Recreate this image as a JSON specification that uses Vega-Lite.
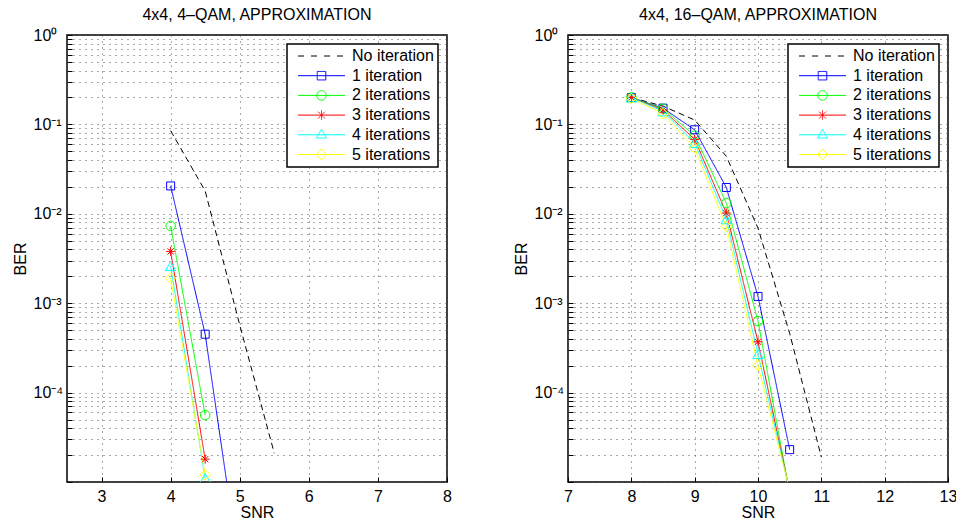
{
  "$schema": "https://vega.github.io/schema/vega-lite/v6.json",
  "background": "white",
  "padding": {"left": 11, "top": 6, "right": 0, "bottom": 0},
  "spacing": 59,
  "datasets": {
    "qam4": [
      {"snr": 4, "ber": 0.085, "series": "No iteration"},
      {"snr": 4.5, "ber": 0.018, "series": "No iteration"},
      {"snr": 5, "ber": 0.00057, "series": "No iteration"},
      {"snr": 5.5, "ber": 0.000021, "series": "No iteration"},
      {"snr": 4, "ber": 0.0205, "series": "1 iteration"},
      {"snr": 4.5, "ber": 0.00045, "series": "1 iteration"},
      {"snr": 5, "ber": 0.000001, "series": "1 iteration"},
      {"snr": 4, "ber": 0.0073, "series": "2 iterations"},
      {"snr": 4.5, "ber": 0.000056, "series": "2 iterations"},
      {"snr": 4, "ber": 0.0038, "series": "3 iterations"},
      {"snr": 4.5, "ber": 0.000018, "series": "3 iterations"},
      {"snr": 4, "ber": 0.0026, "series": "4 iterations"},
      {"snr": 4.5, "ber": 0.000011, "series": "4 iterations"},
      {"snr": 4, "ber": 0.0019, "series": "5 iterations"},
      {"snr": 4.5, "ber": 0.000012, "series": "5 iterations"}
    ],
    "qam16": [
      {"snr": 8, "ber": 0.2, "series": "No iteration"},
      {"snr": 8.5, "ber": 0.16, "series": "No iteration"},
      {"snr": 9, "ber": 0.112, "series": "No iteration"},
      {"snr": 9.5, "ber": 0.044, "series": "No iteration"},
      {"snr": 10, "ber": 0.0069, "series": "No iteration"},
      {"snr": 10.5, "ber": 0.00046, "series": "No iteration"},
      {"snr": 11, "ber": 0.000019, "series": "No iteration"},
      {"snr": 8, "ber": 0.2, "series": "1 iteration"},
      {"snr": 8.5, "ber": 0.152, "series": "1 iteration"},
      {"snr": 9, "ber": 0.087, "series": "1 iteration"},
      {"snr": 9.5, "ber": 0.0197, "series": "1 iteration"},
      {"snr": 10, "ber": 0.00119, "series": "1 iteration"},
      {"snr": 10.5, "ber": 0.000023, "series": "1 iteration"},
      {"snr": 8, "ber": 0.2, "series": "2 iterations"},
      {"snr": 8.5, "ber": 0.15, "series": "2 iterations"},
      {"snr": 9, "ber": 0.075, "series": "2 iterations"},
      {"snr": 9.5, "ber": 0.0132, "series": "2 iterations"},
      {"snr": 10, "ber": 0.00063, "series": "2 iterations"},
      {"snr": 10.5, "ber": 0.0000075, "series": "2 iterations"},
      {"snr": 8, "ber": 0.2, "series": "3 iterations"},
      {"snr": 8.5, "ber": 0.145, "series": "3 iterations"},
      {"snr": 9, "ber": 0.068, "series": "3 iterations"},
      {"snr": 9.5, "ber": 0.0102, "series": "3 iterations"},
      {"snr": 10, "ber": 0.00037, "series": "3 iterations"},
      {"snr": 10.5, "ber": 0.0000078, "series": "3 iterations"},
      {"snr": 8, "ber": 0.2, "series": "4 iterations"},
      {"snr": 8.5, "ber": 0.14, "series": "4 iterations"},
      {"snr": 9, "ber": 0.062, "series": "4 iterations"},
      {"snr": 9.5, "ber": 0.0087, "series": "4 iterations"},
      {"snr": 10, "ber": 0.00027, "series": "4 iterations"},
      {"snr": 10.5, "ber": 0.000008, "series": "4 iterations"},
      {"snr": 8, "ber": 0.195, "series": "5 iterations"},
      {"snr": 8.5, "ber": 0.132, "series": "5 iterations"},
      {"snr": 9, "ber": 0.054, "series": "5 iterations"},
      {"snr": 9.5, "ber": 0.0072, "series": "5 iterations"},
      {"snr": 10, "ber": 0.0002, "series": "5 iterations"},
      {"snr": 10.5, "ber": 0.0000082, "series": "5 iterations"}
    ]
  },
  "config": {
    "font": "Liberation Sans",
    "view": {"stroke": "#000", "strokeWidth": 1.5},
    "axis": {
      "labelFont": "Liberation Sans", "labelFontSize": 16, "labelColor": "#000",
      "titleFont": "Liberation Sans", "titleFontSize": 16, "titleFontWeight": "normal", "titleColor": "#000",
      "domain": false, "grid": true, "gridColor": "#555", "gridDash": [1, 5], "gridWidth": 1, "gridOpacity": 1,
      "ticks": true, "tickColor": "#000", "tickSize": -5, "tickWidth": 1,
      "labelOverlap": false, "labelBound": false, "labelFlush": false
    },
    "title": {"font": "Liberation Sans", "fontSize": 16, "fontWeight": "normal", "color": "#000", "anchor": "middle", "offset": 4},
    "legend": {
      "strokeColor": "#000", "strokeWidth": 1.5, "fillColor": "#fff", "padding": 4,
      "labelFont": "Liberation Sans", "labelFontSize": 16, "labelColor": "#000",
      "symbolStrokeWidth": 1, "symbolSize": 100, "labelOffset": 22.5, "symbolOffset": 22.5, "rowPadding": 3.7
    }
  },
  "resolve": {
    "scale": {"color": "independent", "shape": "independent", "strokeDash": "independent"},
    "legend": {"color": "independent", "shape": "independent", "strokeDash": "independent"}
  },
  "hconcat": [
    {
      "title": {"text": "4x4, 4–QAM, APPROXIMATION"},
      "width": 380, "height": 447,
      "data": {"name": "qam4"},
      "encoding": {
        "x": {"field": "snr", "type": "quantitative",
          "scale": {"domain": [2.5, 8], "nice": false, "zero": false},
          "axis": {"values": [3, 4, 5, 6, 7, 8], "format": "d", "title": "SNR", "labelPadding": 11, "titlePadding": 0}},
        "y": {"field": "ber", "type": "quantitative",
          "scale": {"type": "log", "domain": [0.00001, 1], "nice": false},
          "axis": {
            "values": [0.00001, 0.00002, 0.00003, 0.00004, 0.00005, 0.00006, 0.00007, 0.00008, 0.00009, 0.0001, 0.0002, 0.0003, 0.0004, 0.0005, 0.0006, 0.0007, 0.0008, 0.0009, 0.001, 0.002, 0.003, 0.004, 0.005, 0.006, 0.007, 0.008, 0.009, 0.01, 0.02, 0.03, 0.04, 0.05, 0.06, 0.07, 0.08, 0.09, 0.1, 0.2, 0.3, 0.4, 0.5, 0.6, 0.7, 0.8, 0.9, 1],
            "labelExpr": "datum.value == 1 ? '10⁰' : datum.value == 0.1 ? '10⁻¹' : datum.value == 0.01 ? '10⁻²' : datum.value == 0.001 ? '10⁻³' : datum.value == 0.0001 ? '10⁻⁴' : ''",
            "labelAlign": "left", "labelPadding": 39, "title": "BER", "titlePadding": 5}}
      },
      "layer": [
        {"mark": {"type": "line", "strokeWidth": 1, "clip": true},
         "encoding": {
           "color": {"field": "series", "type": "nominal", "scale": {"domain": ["No iteration", "1 iteration", "2 iterations", "3 iterations", "4 iterations", "5 iterations"], "range": ["#000000", "#0000ff", "#00ff00", "#ff0000", "#00ffff", "#ffff00"]}},
           "strokeDash": {"field": "series", "type": "nominal", "scale": {"domain": ["No iteration", "1 iteration", "2 iterations", "3 iterations", "4 iterations", "5 iterations"], "range": [[6, 4], [1, 0], [1, 0], [1, 0], [1, 0], [1, 0]]}, "legend": null}}},
        {"transform": [{"filter": "datum.series === '1 iteration'"}],
         "mark": {"type": "point", "shape": "square", "filled": false, "size": 64, "strokeWidth": 1, "opacity": 1, "clip": true},
         "encoding": {"color": {"field": "series", "type": "nominal"}}},
        {"transform": [{"filter": "datum.series === '2 iterations'"}],
         "mark": {"type": "point", "shape": "circle", "filled": false, "size": 90, "strokeWidth": 1, "opacity": 1, "clip": true},
         "encoding": {"color": {"field": "series", "type": "nominal"}}},
        {"transform": [{"filter": "datum.series === '3 iterations'"}],
         "mark": {"type": "point", "shape": "M-1,0H1M0,-1V1M-0.7,-0.7L0.7,0.7M-0.7,0.7L0.7,-0.7", "filled": false, "size": 81, "strokeWidth": 1, "opacity": 1, "clip": true},
         "encoding": {"color": {"field": "series", "type": "nominal"}}},
        {"transform": [{"filter": "datum.series === '4 iterations'"}],
         "mark": {"type": "point", "shape": "triangle-up", "filled": false, "size": 110, "strokeWidth": 1, "opacity": 1, "clip": true},
         "encoding": {"color": {"field": "series", "type": "nominal"}}},
        {"transform": [{"filter": "datum.series === '5 iterations'"}],
         "mark": {"type": "point", "shape": "diamond", "filled": false, "size": 110, "strokeWidth": 1, "opacity": 1, "clip": true},
         "encoding": {"color": {"field": "series", "type": "nominal"}}},
        {"mark": {"type": "point", "filled": false, "opacity": 0},
         "encoding": {
           "color": {"field": "series", "type": "nominal", "legend": {"title": null, "orient": "top-right", "offset": 9}},
           "shape": {"field": "series", "type": "nominal",
             "scale": {"domain": ["No iteration", "1 iteration", "2 iterations", "3 iterations", "4 iterations", "5 iterations"],
               "range": ["M-4.7,0H-3.1M-2.1,0H-0.5M0.5,0H2.1M3.1,0H4.7", "M-4.7,0H4.7M-0.85,-0.85H0.85V0.85H-0.85Z", "M-4.7,0H4.7M0.95,0A0.95,0.95,0,1,1,-0.95,0A0.95,0.95,0,1,1,0.95,0Z", "M-4.7,0H4.7M0,-0.95V0.95M-0.68,-0.68L0.68,0.68M-0.68,0.68L0.68,-0.68", "M-4.7,0H4.7M0,-1.1L1,0.65H-1Z", "M-4.7,0H4.7M0,-1.1L1,0L0,1.1L-1,0Z"]},
             "legend": {"title": null, "orient": "top-right", "offset": 9}}}}
      ]
    },
    {
      "title": {"text": "4x4, 16–QAM, APPROXIMATION"},
      "width": 380, "height": 447,
      "data": {"name": "qam16"},
      "encoding": {
        "x": {"field": "snr", "type": "quantitative",
          "scale": {"domain": [7, 13], "nice": false, "zero": false},
          "axis": {"values": [7, 8, 9, 10, 11, 12, 13], "format": "d", "title": "SNR", "labelPadding": 11, "titlePadding": 0}},
        "y": {"field": "ber", "type": "quantitative",
          "scale": {"type": "log", "domain": [0.00001, 1], "nice": false},
          "axis": {
            "values": [0.00001, 0.00002, 0.00003, 0.00004, 0.00005, 0.00006, 0.00007, 0.00008, 0.00009, 0.0001, 0.0002, 0.0003, 0.0004, 0.0005, 0.0006, 0.0007, 0.0008, 0.0009, 0.001, 0.002, 0.003, 0.004, 0.005, 0.006, 0.007, 0.008, 0.009, 0.01, 0.02, 0.03, 0.04, 0.05, 0.06, 0.07, 0.08, 0.09, 0.1, 0.2, 0.3, 0.4, 0.5, 0.6, 0.7, 0.8, 0.9, 1],
            "labelExpr": "datum.value == 1 ? '10⁰' : datum.value == 0.1 ? '10⁻¹' : datum.value == 0.01 ? '10⁻²' : datum.value == 0.001 ? '10⁻³' : datum.value == 0.0001 ? '10⁻⁴' : ''",
            "labelAlign": "left", "labelPadding": 39, "title": "BER", "titlePadding": 5}}
      },
      "layer": [
        {"mark": {"type": "line", "strokeWidth": 1, "clip": true},
         "encoding": {
           "color": {"field": "series", "type": "nominal", "scale": {"domain": ["No iteration", "1 iteration", "2 iterations", "3 iterations", "4 iterations", "5 iterations"], "range": ["#000000", "#0000ff", "#00ff00", "#ff0000", "#00ffff", "#ffff00"]}},
           "strokeDash": {"field": "series", "type": "nominal", "scale": {"domain": ["No iteration", "1 iteration", "2 iterations", "3 iterations", "4 iterations", "5 iterations"], "range": [[6, 4], [1, 0], [1, 0], [1, 0], [1, 0], [1, 0]]}, "legend": null}}},
        {"transform": [{"filter": "datum.series === '1 iteration'"}],
         "mark": {"type": "point", "shape": "square", "filled": false, "size": 64, "strokeWidth": 1, "opacity": 1, "clip": true},
         "encoding": {"color": {"field": "series", "type": "nominal"}}},
        {"transform": [{"filter": "datum.series === '2 iterations'"}],
         "mark": {"type": "point", "shape": "circle", "filled": false, "size": 90, "strokeWidth": 1, "opacity": 1, "clip": true},
         "encoding": {"color": {"field": "series", "type": "nominal"}}},
        {"transform": [{"filter": "datum.series === '3 iterations'"}],
         "mark": {"type": "point", "shape": "M-1,0H1M0,-1V1M-0.7,-0.7L0.7,0.7M-0.7,0.7L0.7,-0.7", "filled": false, "size": 81, "strokeWidth": 1, "opacity": 1, "clip": true},
         "encoding": {"color": {"field": "series", "type": "nominal"}}},
        {"transform": [{"filter": "datum.series === '4 iterations'"}],
         "mark": {"type": "point", "shape": "triangle-up", "filled": false, "size": 110, "strokeWidth": 1, "opacity": 1, "clip": true},
         "encoding": {"color": {"field": "series", "type": "nominal"}}},
        {"transform": [{"filter": "datum.series === '5 iterations'"}],
         "mark": {"type": "point", "shape": "diamond", "filled": false, "size": 110, "strokeWidth": 1, "opacity": 1, "clip": true},
         "encoding": {"color": {"field": "series", "type": "nominal"}}},
        {"mark": {"type": "point", "filled": false, "opacity": 0},
         "encoding": {
           "color": {"field": "series", "type": "nominal", "legend": {"title": null, "orient": "top-right", "offset": 9}},
           "shape": {"field": "series", "type": "nominal",
             "scale": {"domain": ["No iteration", "1 iteration", "2 iterations", "3 iterations", "4 iterations", "5 iterations"],
               "range": ["M-4.7,0H-3.1M-2.1,0H-0.5M0.5,0H2.1M3.1,0H4.7", "M-4.7,0H4.7M-0.85,-0.85H0.85V0.85H-0.85Z", "M-4.7,0H4.7M0.95,0A0.95,0.95,0,1,1,-0.95,0A0.95,0.95,0,1,1,0.95,0Z", "M-4.7,0H4.7M0,-0.95V0.95M-0.68,-0.68L0.68,0.68M-0.68,0.68L0.68,-0.68", "M-4.7,0H4.7M0,-1.1L1,0.65H-1Z", "M-4.7,0H4.7M0,-1.1L1,0L0,1.1L-1,0Z"]},
             "legend": {"title": null, "orient": "top-right", "offset": 9}}}}
      ]
    }
  ]
}
